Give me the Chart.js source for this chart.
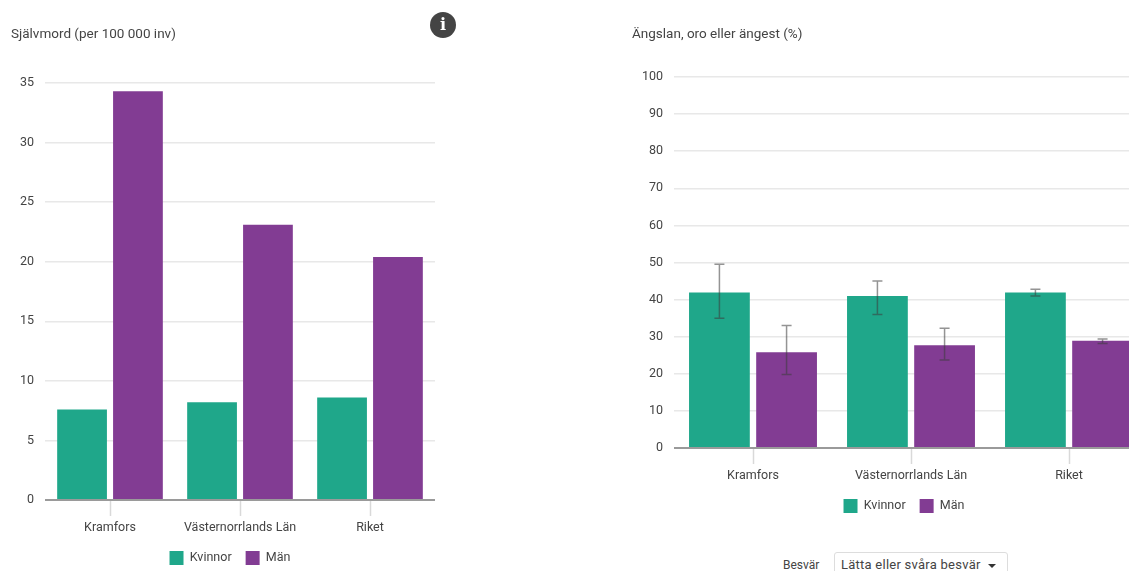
<!DOCTYPE html>
<html lang="sv">
<head>
<meta charset="utf-8">
<title>Självmord och ängslan</title>
<script src="https://cdn.jsdelivr.net/npm/chart.js@4"></script>
<style>
html, body { margin: 0; padding: 0; width: 1129px; height: 571px; overflow: hidden; background: #fff; font-family: Roboto, sans-serif; color: #444; }
canvas { position: absolute; top: 0; }
#leftChart { left: 0; }
#rightChart { left: 621px; }
#info { position: absolute; left: 430px; top: 12px; width: 26px; height: 26px; border-radius: 50%; background: #444; color: #fff; font: bold 16px/26px "DejaVu Serif", serif; text-align: center; }
#filterLabel { position: absolute; left: 783px; top: 558px; font-size: 12px; line-height: 14px; }
#filterBox { position: absolute; left: 834px; top: 552px; width: 172px; height: 30px; border: 1px solid #ddd; border-radius: 3px; box-sizing: content-box; font-size: 13px; line-height: 14px; }
#filterBox span { position: absolute; left: 6px; top: 5px; white-space: nowrap; letter-spacing: .25px; }
#filterBox i { position: absolute; left: 153px; top: 11px; width: 0; height: 0; border-left: 4px solid transparent; border-right: 4px solid transparent; border-top: 4px solid #333; }
</style>
</head>
<body>
<canvas id="leftChart" width="470" height="575"></canvas>
<canvas id="rightChart" width="540" height="523"></canvas>
<div id="info">i</div>
<div id="filterLabel">Besvär</div>
<div id="filterBox"><span>Lätta eller svåra besvär</span><i></i></div>
<script>
// Data
const categories = ["Kramfors", "Västernorrlands Län", "Riket"];
const seriesNames = ["Kvinnor", "Män"];

const suicideWomen = [7.6, 8.2, 8.6];
const suicideMen = [34.3, 23.1, 20.4];

const anxietyWomen = [41.9, 41, 41.9];
const anxietyMen = [25.8, 27.7, 28.9];

const anxietyWomenLow = [35, 36, 41];
const anxietyWomenHigh = [49.5, 45, 42.8];
const anxietyMenLow = [19.8, 23.7, 28.2];
const anxietyMenHigh = [33, 32.3, 29.4];

const GREEN = "#1fa78a";
const PURPLE = "#823c93";
const TEXT = "#444";

Chart.defaults.font.family = "Roboto, sans-serif";
Chart.defaults.font.size = 12.5;
Chart.defaults.color = TEXT;

// Draws the confidence intervals on top of the bars
const errorBars = {
    id: "errorBars",
    afterDatasetsDraw(chart, args, opts) {
        if (!opts.ranges) return;
        const ctx = chart.ctx;
        const y = chart.scales.y;
        ctx.save();
        ctx.strokeStyle = "rgba(60,60,60,0.55)";
        ctx.lineWidth = 1.5;
        opts.ranges.forEach((range, d) => {
            chart.getDatasetMeta(d).data.forEach((bar, i) => {
                const lo = y.getPixelForValue(range.low[i]);
                const hi = y.getPixelForValue(range.high[i]);
                ctx.beginPath();
                ctx.moveTo(bar.x, lo); ctx.lineTo(bar.x, hi);
                ctx.moveTo(bar.x - 5, lo); ctx.lineTo(bar.x + 5, lo);
                ctx.moveTo(bar.x - 5, hi); ctx.lineTo(bar.x + 5, hi);
                ctx.stroke();
            });
        });
        ctx.restore();
    }
};

// Moves the legend sideways, it is not centred on the canvas in the original
const legendShift = {
    id: "legendShift",
    afterLayout(chart, args, opts) {
        chart.legend.left += opts.dx;
        chart.legend.right += opts.dx;
    }
};

function makeChart(id, cfg) {
    return new Chart(document.getElementById(id), {
        type: "bar",
        data: {
            labels: categories,
            datasets: [
                { label: seriesNames[0], data: cfg.women, backgroundColor: GREEN },
                { label: seriesNames[1], data: cfg.men, backgroundColor: PURPLE }
            ]
        },
        plugins: [errorBars, legendShift],
        options: {
            responsive: false,
            animation: false,
            devicePixelRatio: 1,
            categoryPercentage: cfg.catPct,
            barPercentage: cfg.barPct,
            layout: { padding: { left: 11, right: cfg.rightPad } },
            plugins: {
                title: {
                    display: true,
                    text: cfg.title,
                    align: "start",
                    color: TEXT,
                    font: { size: 13.5, weight: "normal" },
                    padding: { top: 27, bottom: cfg.titleGap }
                },
                legend: {
                    position: "bottom",
                    onClick: null,
                    labels: { boxWidth: 14, boxHeight: 14, padding: 14, color: TEXT }
                },
                tooltip: { enabled: false },
                errorBars: { ranges: cfg.ranges },
                legendShift: { dx: cfg.legendDx }
            },
            scales: {
                x: {
                    afterFit(scale) { scale.height = 37; },
                    grid: { drawOnChartArea: false, tickLength: 16, tickWidth: 1.5, tickColor: "#d9d9d9", offset: false },
                    border: { display: false },
                    ticks: { padding: 4, color: TEXT, maxRotation: 0 }
                },
                y: {
                    min: 0,
                    max: cfg.max,
                    afterFit(scale) { scale.width = cfg.axisWidth; },
                    grid: {
                        drawTicks: false,
                        lineWidth: c => c.tick.value === 0 ? 2 : 1.5,
                        color: c => c.tick.value === 0 ? "#9a9a9a" : "#e8e8e8"
                    },
                    border: { display: false },
                    ticks: { stepSize: cfg.step, padding: 11, color: TEXT }
                }
            }
        }
    });
}

makeChart("leftChart", {
    title: "Självmord (per 100 000 inv)",
    women: suicideWomen,
    men: suicideMen,
    max: 35,
    step: 5,
    catPct: 0.86,
    barPct: 0.89,
    axisWidth: 34,
    rightPad: 35,
    titleGap: 39.8,
    legendDx: 7
});

makeChart("rightChart", {
    title: "Ängslan, oro eller ängest (%)",
    women: anxietyWomen,
    men: anxietyMen,
    ranges: [
        { low: anxietyWomenLow, high: anxietyWomenHigh },
        { low: anxietyMenLow, high: anxietyMenHigh }
    ],
    max: 100,
    step: 10,
    catPct: 0.85,
    barPct: 0.905,
    axisWidth: 42,
    rightPad: 13,
    titleGap: 33.8,
    legendDx: 14
});
</script>
</body>
</html>
